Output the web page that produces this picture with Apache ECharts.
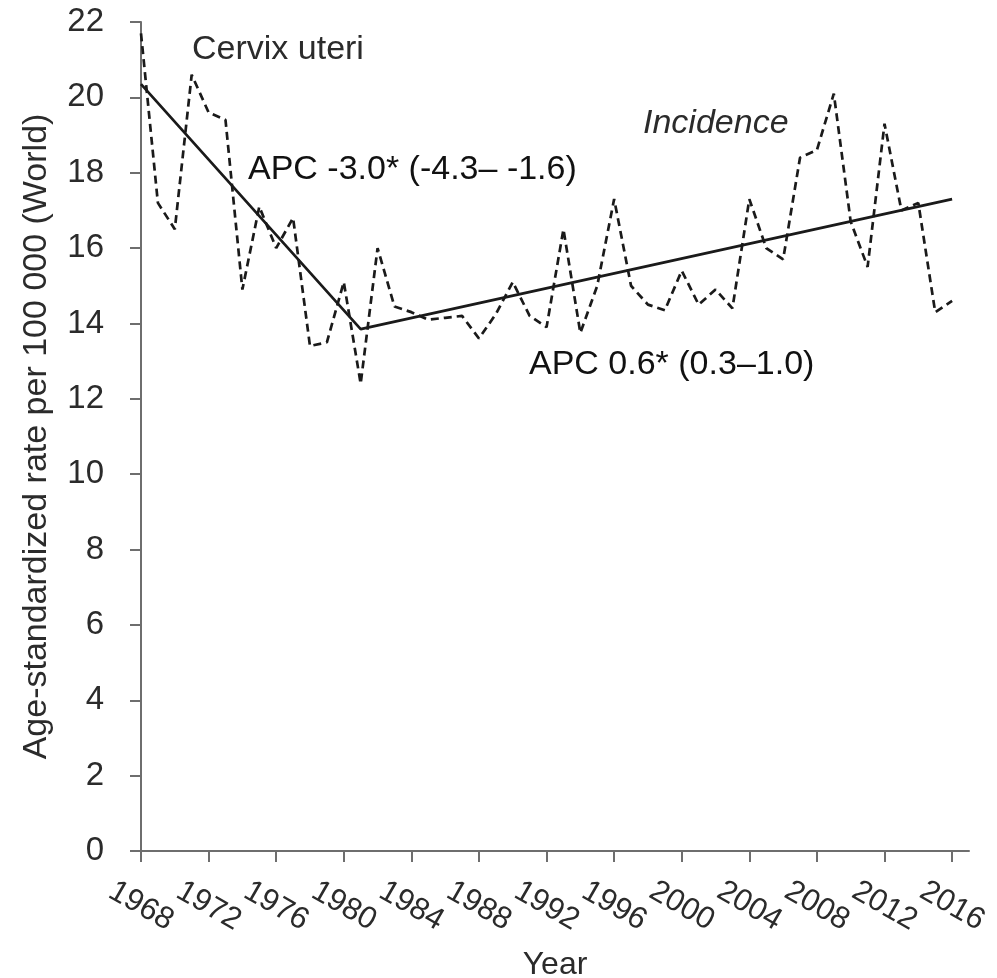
<!DOCTYPE html>
<html>
<head>
<meta charset="utf-8">
<script src="https://cdn.jsdelivr.net/npm/echarts@6/dist/echarts.min.js"></script>
<style>
  html, body { margin: 0; padding: 0; background: #fff; }
  #chart { width: 997px; height: 978px; }
</style>
</head>
<body>
<div id="chart"></div>
<script>
// ---- data ----
const years = [
  1968, 1969, 1970, 1971, 1972, 1973, 1974, 1975, 1976, 1977,
  1978, 1979, 1980, 1981, 1982, 1983, 1984, 1985, 1986, 1987,
  1988, 1989, 1990, 1991, 1992, 1993, 1994, 1995, 1996, 1997,
  1998, 1999, 2000, 2001, 2002, 2003, 2004, 2005, 2006, 2007,
  2008, 2009, 2010, 2011, 2012, 2013, 2014, 2015, 2016
];
const incidence = [
  21.7, 17.2, 16.5, 20.6, 19.6, 19.4, 14.9, 17.1, 16.0, 16.8,
  13.4, 13.5, 15.1, 12.4, 16.0, 14.45, 14.3, 14.1, 14.15, 14.2,
  13.6, 14.25, 15.1, 14.2, 13.9, 16.5, 13.75, 15.0, 17.3, 15.0,
  14.5, 14.35, 15.4, 14.5, 14.9, 14.4, 17.3, 16.0, 15.7, 18.4,
  18.6, 20.1, 16.7, 15.5, 19.3, 17.0, 17.2, 14.3, 14.6
];
const trendYears = [1968, 1981, 2016];
const trendValues = [20.35, 13.85, 17.3];
const xTickYears = [1968, 1972, 1976, 1980, 1984, 1988, 1992, 1996, 2000, 2004, 2008, 2012, 2016];
const yTicks = [0, 2, 4, 6, 8, 10, 12, 14, 16, 18, 20, 22];
const siteLabel = 'Cervix uteri';
const measureLabel = 'Incidence';
const apc1Label = 'APC -3.0* (-4.3\u2013 -1.6)';
const apc2Label = 'APC 0.6* (0.3\u20131.0)';
const xTitle = 'Year';
const yTitle = 'Age-standardized rate per 100 000 (World)';

// ---- chart ----
const FONT = '"Liberation Sans", Arial, sans-serif';
const TXT = '#2b2b2b';
const AX = '#6e6e6e';

const chart = echarts.init(document.getElementById('chart'), null, { renderer: 'canvas' });

chart.setOption({
  animation: false,
  backgroundColor: '#ffffff',
  grid: { left: 141, right: 28, top: 22, bottom: 127, containLabel: false, outerBoundsMode: 'none' },
  xAxis: {
    type: 'value',
    min: 1968,
    max: 2017,
    interval: 4,
    name: xTitle,
    nameLocation: 'middle',
    nameGap: 98,
    nameTextStyle: { fontFamily: FONT, fontSize: 32, color: TXT },
    axisLine: { show: true, onZero: false, lineStyle: { color: AX, width: 2 } },
    axisTick: { show: true, inside: false, length: 11, customValues: xTickYears, lineStyle: { color: AX, width: 2 } },
    axisLabel: {
      customValues: xTickYears,
      rotate: -30,
      align: 'center',
      verticalAlign: 'middle',
      margin: 55,
      fontFamily: FONT,
      fontSize: 31,
      color: TXT,
      formatter: v => String(v)
    },
    splitLine: { show: false }
  },
  yAxis: {
    type: 'value',
    min: 0,
    max: 22,
    interval: 2,
    name: yTitle,
    nameLocation: 'middle',
    nameRotate: 90,
    nameGap: 87,
    nameTextStyle: { fontFamily: FONT, fontSize: 34, color: TXT },
    axisLine: { show: true, lineStyle: { color: AX, width: 2 } },
    axisTick: { show: true, inside: false, length: 11, customValues: yTicks, lineStyle: { color: AX, width: 2 } },
    axisLabel: { customValues: yTicks, margin: 37, fontFamily: FONT, fontSize: 33, color: TXT },
    splitLine: { show: false }
  },
  series: [
    {
      name: 'Incidence',
      type: 'line',
      data: years.map((y, i) => [y, incidence[i]]),
      showSymbol: false,
      symbol: 'none',
      lineStyle: { color: '#1a1a1a', width: 2.7, type: [8, 5] },
      z: 2
    },
    {
      name: 'Trend',
      type: 'line',
      data: trendYears.map((y, i) => [y, trendValues[i]]),
      showSymbol: false,
      symbol: 'none',
      lineStyle: { color: '#1a1a1a', width: 2.7, type: 'solid' },
      z: 3
    }
  ],
  graphic: [
    { type: 'text', x: 192, y: 50, style: { text: siteLabel, font: '34px ' + FONT, fill: TXT, align: 'left', verticalAlign: 'middle' } },
    { type: 'text', x: 643, y: 124, style: { text: measureLabel, font: 'italic 34px ' + FONT, fill: TXT, align: 'left', verticalAlign: 'middle' } },
    { type: 'text', x: 248, y: 170, style: { text: apc1Label, font: '34px ' + FONT, fill: '#111', align: 'left', verticalAlign: 'middle' } },
    { type: 'text', x: 529, y: 365, style: { text: apc2Label, font: '34px ' + FONT, fill: '#111', align: 'left', verticalAlign: 'middle' } }
  ]
});
</script>
</body>
</html>
